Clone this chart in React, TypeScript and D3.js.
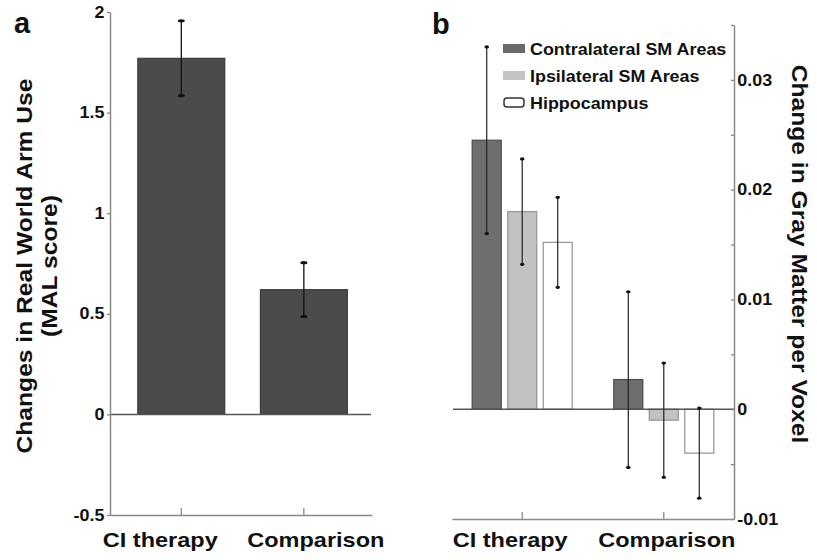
import React, { useEffect, useRef } from "react";
import * as d3 from "d3";

// panel a: MAL score
const armGroups = ["CI therapy", "Comparison"];
const armMeans = [1.77, 0.62];
const armErrors = [0.186, 0.134];
const armTicks = [-0.5, 0, 0.5, 1, 1.5, 2];

// panel b: gray matter change
const gmGroups = ["CI therapy", "Comparison"];
const gmSeries = ["Contralateral SM Areas", "Ipsilateral SM Areas", "Hippocampus"];
const contraMeans = [0.0245, 0.0027];
const contraErrors = [0.0085, 0.008];
const ipsiMeans = [0.018, -0.001];
const ipsiErrors = [0.0048, 0.0052];
const hippoMeans = [0.0152, -0.004];
const hippoErrors = [0.0041, 0.0041];
const gmTicks = [-0.01, 0, 0.01, 0.02, 0.03];
const gmMinorTicks = [-0.005, 0.005, 0.015, 0.025, 0.035];

const FONT = '"Liberation Sans", Arial, Helvetica, sans-serif';
const SX = 1.12; // the original lettering is a bit wider than Arial

const seriesStyle = [
  { fill: "#6e6e6e", stroke: "#505050" },
  { fill: "#c2c2c2", stroke: "#9a9a9a" },
  { fill: "#ffffff", stroke: "#9a9a9a" },
];

const addText = (g, text, x, y, size, anchor = "middle", rotate = 0, sx = SX) => {
  g.append("text")
    .attr("transform", `translate(${x},${y}) rotate(${rotate}) scale(${sx},1)`)
    .attr("text-anchor", anchor)
    .style("font-family", FONT)
    .style("font-weight", "bold")
    .style("font-size", size + "px")
    .style("fill", "#111")
    .text(text);
};

const styleAxis = (axisG, fontSize) => {
  axisG.select(".domain").attr("stroke", "#8a8a8a").attr("stroke-width", 1.5);
  axisG.selectAll(".tick line").attr("stroke", "#808080").attr("stroke-width", 1.2);
  axisG.selectAll(".tick text")
    .style("font-family", FONT)
    .style("font-weight", "bold")
    .style("font-size", fontSize + "px")
    .style("fill", "#111")
    .attr("transform", `scale(${SX},1)`);
};

const App = () => {
  const chartRef = useRef(null);

  useEffect(() => {
    const svg = d3.select(chartRef.current);
    svg.selectAll("*").remove();

    // ---------- panel a ----------
    const a = svg.append("g");
    const yA = d3.scaleLinear().domain([-0.5, 2]).range([515, 12]);
    const xA = d3.scaleBand().domain(armGroups).range([110, 372])
      .paddingInner(0.29).paddingOuter(0.214).align(0.53);

    a.selectAll("rect.bar")
      .data(armGroups)
      .enter().append("rect")
      .attr("class", "bar")
      .attr("x", (d) => xA(d))
      .attr("y", (d, i) => yA(Math.max(armMeans[i], 0)))
      .attr("width", xA.bandwidth())
      .attr("height", (d, i) => Math.abs(yA(armMeans[i]) - yA(0)))
      .attr("fill", "#4b4b4b")
      .attr("stroke", "#2f2f2f");

    armGroups.forEach((d, i) => {
      const cx = xA(d) + xA.bandwidth() / 2;
      const hi = yA(armMeans[i] + armErrors[i]);
      const lo = yA(armMeans[i] - armErrors[i]);
      a.append("line").attr("x1", cx).attr("x2", cx).attr("y1", hi).attr("y2", lo)
        .attr("stroke", "#111").attr("stroke-width", 1.3);
      [hi, lo].forEach((yy) =>
        a.append("ellipse").attr("cx", cx).attr("cy", yy).attr("rx", 3.5).attr("ry", 1.6).attr("fill", "#111"));
    });

    a.append("line").attr("x1", 110).attr("x2", 371).attr("y1", yA(0)).attr("y2", yA(0))
      .attr("stroke", "#555").attr("stroke-width", 1.5);

    const axA = a.append("g").attr("transform", "translate(110,0)")
      .call(d3.axisLeft(yA).tickValues(armTicks).tickFormat((d) => String(d))
        .tickSize(3).tickPadding(2).tickSizeOuter(0));
    styleAxis(axA, 16);

    const axAb = a.append("g").attr("transform", `translate(0,${yA(-0.5)})`)
      .call(d3.axisBottom(xA).tickSize(-7).tickSizeOuter(0).tickFormat(() => ""));
    styleAxis(axAb, 16);

    const armLabelShift = [-21, 12];
    armGroups.forEach((d, i) =>
      addText(a, d, xA(d) + xA.bandwidth() / 2 + armLabelShift[i], 547, 21));

    addText(a, "Changes in Real World Arm Use", 32, 266, 22, "middle", -90);
    addText(a, "(MAL score)", 57, 266, 22, "middle", -90);
    addText(a, "a", 14, 33, 29, "start", 0, 1);

    // ---------- panel b ----------
    const b = svg.append("g");
    const yB = d3.scaleLinear().domain([-0.01, 0.035]).range([519, 25]);
    const x0 = d3.scaleBand().domain(gmGroups).range([452, 734])
      .paddingInner(0.244).paddingOuter(0.118);
    const x1 = d3.scaleBand().domain(gmSeries).range([0, x0.bandwidth()])
      .paddingInner(0.183).paddingOuter(0.099);

    const gmMeans = [contraMeans, ipsiMeans, hippoMeans];
    const gmErrors = [contraErrors, ipsiErrors, hippoErrors];

    const rows = gmGroups.flatMap((g, gi) =>
      gmSeries.map((s, si) => ({ g, s, si, v: gmMeans[si][gi], e: gmErrors[si][gi] })));

    b.selectAll("rect.bar")
      .data(rows)
      .enter().append("rect")
      .attr("class", "bar")
      .attr("x", (d) => x0(d.g) + x1(d.s))
      .attr("y", (d) => yB(Math.max(d.v, 0)))
      .attr("width", x1.bandwidth())
      .attr("height", (d) => Math.abs(yB(d.v) - yB(0)))
      .attr("fill", (d) => seriesStyle[d.si].fill)
      .attr("stroke", (d) => seriesStyle[d.si].stroke)
      .attr("stroke-width", 1.3);

    b.append("line").attr("x1", 453).attr("x2", 734).attr("y1", yB(0)).attr("y2", yB(0))
      .attr("stroke", "#555").attr("stroke-width", 1.5);

    rows.forEach((d) => {
      const cx = x0(d.g) + x1(d.s) + x1.bandwidth() / 2;
      const hi = yB(d.v + d.e);
      const lo = yB(d.v - d.e);
      b.append("line").attr("x1", cx).attr("x2", cx).attr("y1", hi).attr("y2", lo)
        .attr("stroke", "#222").attr("stroke-width", 1.2);
      [hi, lo].forEach((yy) =>
        b.append("ellipse").attr("cx", cx).attr("cy", yy).attr("rx", 2.3).attr("ry", 1.6).attr("fill", "#111"));
    });

    const allTicks = [...gmTicks, ...gmMinorTicks].sort((p, q) => p - q);
    const axB = b.append("g").attr("transform", "translate(734,0)")
      .call(d3.axisRight(yB).tickValues(allTicks)
        .tickFormat((d) => (gmTicks.includes(d) ? String(d) : ""))
        .tickSize(-3).tickPadding(3).tickSizeOuter(0));
    styleAxis(axB, 16);

    const axBb = b.append("g").attr("transform", `translate(0,${yB(-0.01)})`)
      .call(d3.axisBottom(x0).tickSize(-7).tickSizeOuter(0).tickFormat(() => ""));
    styleAxis(axBb, 16);

    const gmLabelShift = [-12, 3];
    gmGroups.forEach((d, i) =>
      addText(b, d, x0(d) + x0.bandwidth() / 2 + gmLabelShift[i], 547, 21));

    addText(b, "Change in Gray Matter per Voxel", 792, 254, 22, "middle", 90);
    addText(b, "b", 432, 34, 29, "start", 0, 1);

    // legend
    const legend = b.append("g").attr("transform", "translate(503,55)");
    gmSeries.forEach((s, i) => {
      const row = legend.append("g").attr("transform", `translate(0,${i * 27})`);
      row.append("rect")
        .attr("x", i === 2 ? 1 : 0).attr("y", -11)
        .attr("width", i === 2 ? 20 : 22).attr("height", 9)
        .attr("rx", i === 2 ? 3 : 0)
        .attr("fill", i === 0 ? "#6a6a6a" : i === 1 ? "#c4c4c4" : "#fff")
        .attr("stroke", i === 2 ? "#333" : "none")
        .attr("stroke-width", 1.5);
      addText(row, s, 27, 0, 16, "start");
    });
  }, []);

  return (
    <div style={{ position: "absolute", left: 0, top: 0 }}>
      <svg ref={chartRef} width={817} height={560} style={{ display: "block", background: "#fff" }}></svg>
    </div>
  );
};

export default App;
